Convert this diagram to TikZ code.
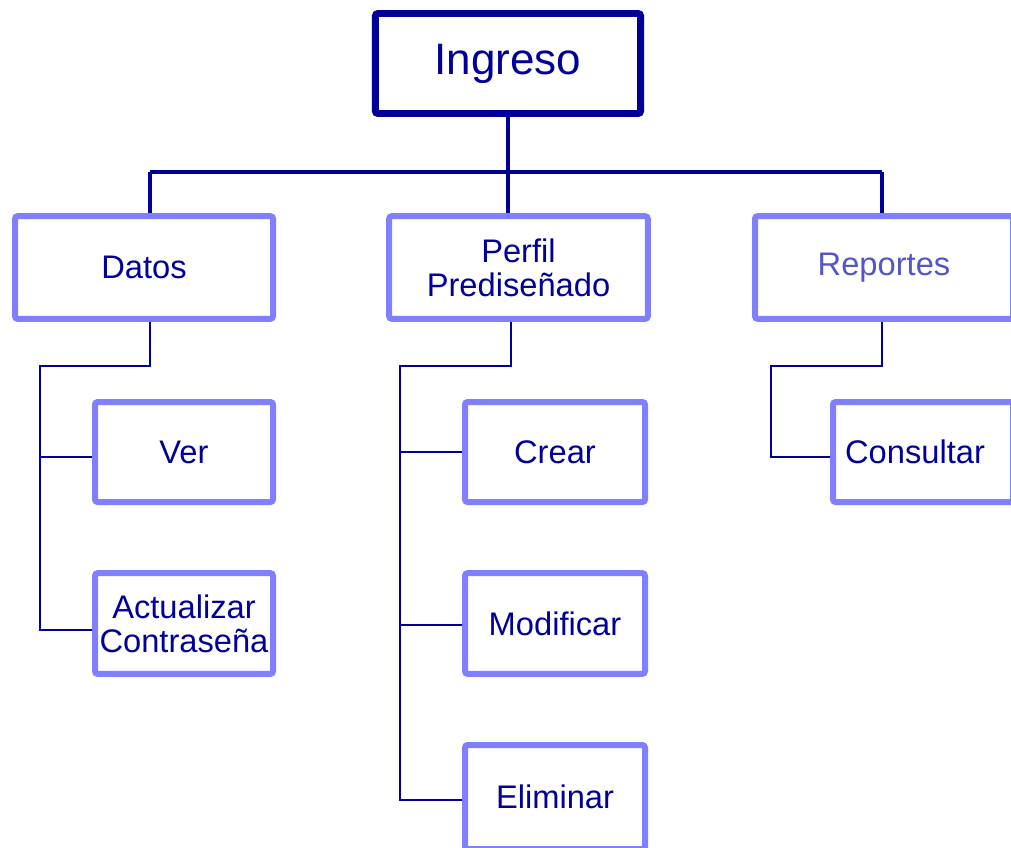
\documentclass[tikz,border=0pt]{standalone}
\usepackage{fontspec}
\setmainfont{Liberation Sans}
\usepackage{tikz}
\usetikzlibrary{calc}
\definecolor{rootnavy}{HTML}{000099}
\definecolor{boxlilac}{HTML}{8080FF}
\definecolor{softnavy}{HTML}{5555C8}
\tikzset{
  trunk/.style={draw=rootnavy, line width=2.6pt},
  branch/.style={draw=rootnavy, line width=1.5pt},
  rootbox/.style={
    draw=rootnavy,
    line width=5.2pt,
    rounded corners=2pt,
    text=rootnavy,
    font=\fontsize{33}{36}\selectfont,
    minimum width=199pt,
    minimum height=75pt
  },
  menubox/.style={
    draw=boxlilac,
    line width=4.5pt,
    rounded corners=2pt,
    fill=white,
    align=center,
    text=rootnavy,
    inner sep=1pt,
    font=\fontsize{24.5}{25.5}\selectfont,
    minimum height=77pt
  }
}

\begin{document}
\begin{tikzpicture}[x=0.75pt,y=-0.75pt]
  \path[use as bounding box] (0,0) rectangle (1011,847);

  \node[rootbox] (ingreso) at (508,63.5) {Ingreso};

  \node[menubox, minimum width=193.5pt] (datos) at (144,267.5) {Datos};
  \node[menubox, minimum width=194pt] (perfil) at (518.5,267.5) {Perfil\\Prediseñado};
  \node[menubox, minimum width=193.5pt, text=softnavy] (reportes) at (884,267.5) {Reportes};

  \node[menubox, minimum width=133.5pt, minimum height=75pt] (ver) at (184,452) {Ver};
  \node[menubox, minimum width=133.5pt, minimum height=75.5pt] (actualizar) at (184,623.5) {Actualizar\\Contraseña};

  \node[menubox, minimum width=135pt, minimum height=75pt] (crear) at (555,452) {Crear};
  \node[menubox, minimum width=135pt, minimum height=75.5pt] (modificar) at (555,623.5) {Modificar};
  \node[menubox, minimum width=135pt, minimum height=78pt] (eliminar) at (555,797) {Eliminar};

  \node[menubox, minimum width=135pt, minimum height=75pt] (consultar) at (923,452) {\hspace*{-12pt}Consultar};

  % top level
  \coordinate (barL) at (150,172);
  \coordinate (barR) at (882,172);
  \draw[trunk] (ingreso.south) -- (ingreso.south |- perfil.north);
  \draw[trunk] (barL) -- (barR);
  \draw[trunk] (barL) -- (barL |- datos.north);
  \draw[trunk] (barR) -- (barR |- reportes.north);

  % Datos
  \coordinate (datosbus) at (40,366);
  \draw[branch] ($(datos.south)+(6,0)$) |- (datosbus) |- ($(actualizar.west)+(0,6)$);
  \draw[branch] ($(datosbus |- ver.west)+(0,5)$) -- ($(ver.west)+(0,5)$);

  % Perfil
  \coordinate (perfilbus) at (400,366);
  \draw[branch] ($(perfil.south)+(-8,0)$) |- (perfilbus) |- ($(eliminar.west)+(0,3)$);
  \draw[branch] (perfilbus |- crear.west) -- (crear.west);
  \draw[branch] ($(perfilbus |- modificar.west)+(0,1)$) -- ($(modificar.west)+(0,1)$);

  % Reportes
  \coordinate (reportesbus) at (771,366);
  \draw[branch] ($(reportes.south)+(-2,0)$) |- (reportesbus) |- ($(consultar.west)+(0,5)$);
\end{tikzpicture}
\end{document}
